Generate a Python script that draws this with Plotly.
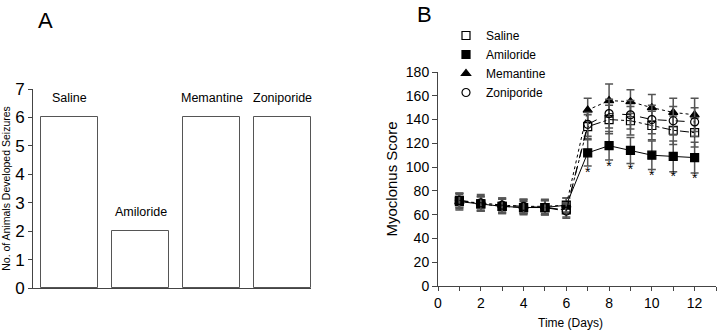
import plotly.graph_objects as go

# ---------------- Data ----------------
# Panel A
groups_a = ["Saline", "Amiloride", "Memantine", "Zoniporide"]
seizure_counts = [6, 2, 6, 6]

# Panel B
days = [1, 2, 3, 4, 5, 6, 7, 8, 9, 10, 11, 12]
saline = [72, 69, 67, 66, 66, 64, 134, 140, 139, 135, 131, 129]
saline_err = [6, 6, 6, 6, 6, 6, 10, 12, 12, 12, 12, 12]
amiloride = [71, 69, 67, 66, 66, 68, 112, 118, 114, 110, 109, 108]
amiloride_err = [6, 6, 6, 5, 6, 6, 11, 12, 11, 12, 13, 13]
memantine = [71, 70, 68, 67, 67, 68, 148, 156, 155, 150, 146, 144]
memantine_err = [7, 7, 6, 6, 6, 6, 10, 14, 10, 11, 12, 14]
zoniporide = [72, 70, 68, 67, 66, 63, 136, 145, 144, 140, 139, 138]
zoniporide_err = [6, 6, 6, 6, 6, 6, 10, 12, 12, 12, 12, 12]
sig_days = [7, 8, 9, 10, 11, 12]
sig_y = [95, 100, 97, 92, 91, 90]

FONT = "Liberation Sans, Arial, Helvetica, sans-serif"
AX = "#444444"

fig = go.Figure()

# ---------------- Panel A ----------------
fig.add_trace(go.Bar(
    x=list(range(len(groups_a))), y=seizure_counts, width=0.8,
    marker=dict(color="white", line=dict(color="#555555", width=1)),
    showlegend=False, xaxis="x", yaxis="y", hoverinfo="skip"))

for i, (g, v) in enumerate(zip(groups_a, seizure_counts)):
    fig.add_annotation(x=i, y=v, xref="x", yref="y", text=g, showarrow=False,
                       yshift=19, font=dict(size=12.5, color="black", family=FONT))

# ---------------- Panel B ----------------
series = [
    ("Amiloride", amiloride, amiloride_err, "square", "solid"),
    ("Memantine", memantine, memantine_err, "triangle-up", "dot"),
    ("Saline", saline, saline_err, "square-open", "dashdot"),
    ("Zoniporide", zoniporide, zoniporide_err, "circle-open", "dash"),
]
for name, vals, err, sym, dash in series:
    fig.add_trace(go.Scatter(
        x=days, y=vals, mode="lines+markers", name=name, showlegend=False,
        line=dict(color="black", width=1, dash=dash),
        marker=dict(symbol=sym, size=8, color="black",
                    line=dict(color="black", width=1.2)),
        error_y=dict(type="data", array=err, visible=True, color="#555555",
                     thickness=1.5, width=4),
        xaxis="x2", yaxis="y2"))

fig.add_trace(go.Scatter(
    x=sig_days, y=sig_y, mode="text", text=["*"] * len(sig_days),
    textfont=dict(size=14, color="black", family=FONT),
    showlegend=False, xaxis="x2", yaxis="y2", hoverinfo="skip"))

legend_order = [("Saline", "square-open"), ("Amiloride", "square"),
                ("Memantine", "triangle-up"), ("Zoniporide", "circle-open")]
for rank, (name, sym) in enumerate(legend_order):
    fig.add_trace(go.Scatter(
        x=[None], y=[None], mode="markers", name=name, legendrank=rank + 1,
        marker=dict(symbol=sym, size=8, color="black",
                    line=dict(color="black", width=1.2)),
        xaxis="x2", yaxis="y2"))

fig.update_layout(
    width=721, height=334,
    margin=dict(l=0, r=0, t=0, b=0, autoexpand=False),
    paper_bgcolor="white", plot_bgcolor="white",
    font=dict(family=FONT, color="black"),
    bargap=0,
    xaxis=dict(domain=[33 / 721, 311 / 721], range=[-0.514, 3.4], automargin=False,
               showticklabels=False, ticks="", showgrid=False, zeroline=False,
               showline=True, linecolor=AX, linewidth=1),
    yaxis=dict(domain=[(334 - 288) / 334, (334 - 89) / 334], range=[0, 7],
               automargin=False,
               dtick=1, ticks="outside", ticklen=4, tickcolor=AX,
               showgrid=False, zeroline=False, showline=True, linecolor=AX,
               linewidth=1, tickfont=dict(size=17),
               title=dict(text="No. of Animals Developed Seizures",
                          font=dict(size=10.5), standoff=8)),
    xaxis2=dict(domain=[438 / 721, 716 / 721], range=[0, 13], anchor="y2",
                automargin=False,
                dtick=2, ticks="outside", ticklen=4, tickcolor=AX,
                minor=dict(dtick=1, ticks="outside", ticklen=4, tickcolor=AX),
                showgrid=False, zeroline=False, showline=True, linecolor=AX,
                linewidth=1, tickfont=dict(size=14),
                title=dict(text="", font=dict(size=12))),
    yaxis2=dict(domain=[(334 - 286) / 334, (334 - 72) / 334], range=[0, 180],
                anchor="x2", automargin=False,
                dtick=20, ticks="outside", ticklen=5, tickcolor=AX,
                showgrid=False, zeroline=False, showline=True, linecolor=AX,
                linewidth=1, tickfont=dict(size=14),
                title=dict(text="Myoclonus Score", font=dict(size=15), standoff=4)),
    legend=dict(x=446 / 721, y=1 - 21 / 334, xanchor="left", yanchor="top",
                bgcolor="rgba(0,0,0,0)", font=dict(size=12),
                tracegroupgap=0, itemclick=False),
    annotations=list(fig.layout.annotations) + [
        dict(text="A", x=45 / 721, y=1 - 20 / 334, xref="paper", yref="paper",
             xanchor="center", yanchor="middle",
             showarrow=False, font=dict(size=22, family=FONT)),
        dict(text="B", x=425 / 721, y=1 - 14 / 334, xref="paper", yref="paper",
             xanchor="center", yanchor="middle",
             showarrow=False, font=dict(size=22, family=FONT)),
        dict(text="Time (Days)", x=570 / 721, y=1 - 323 / 334, xref="paper",
             yref="paper", xanchor="center", yanchor="middle",
             showarrow=False, font=dict(size=12, family=FONT)),
    ],
)

fig.write_html("out.html", config={"displayModeBar": False},
               post_script="document.body.style.margin='0';document.body.style.overflow='hidden';")
